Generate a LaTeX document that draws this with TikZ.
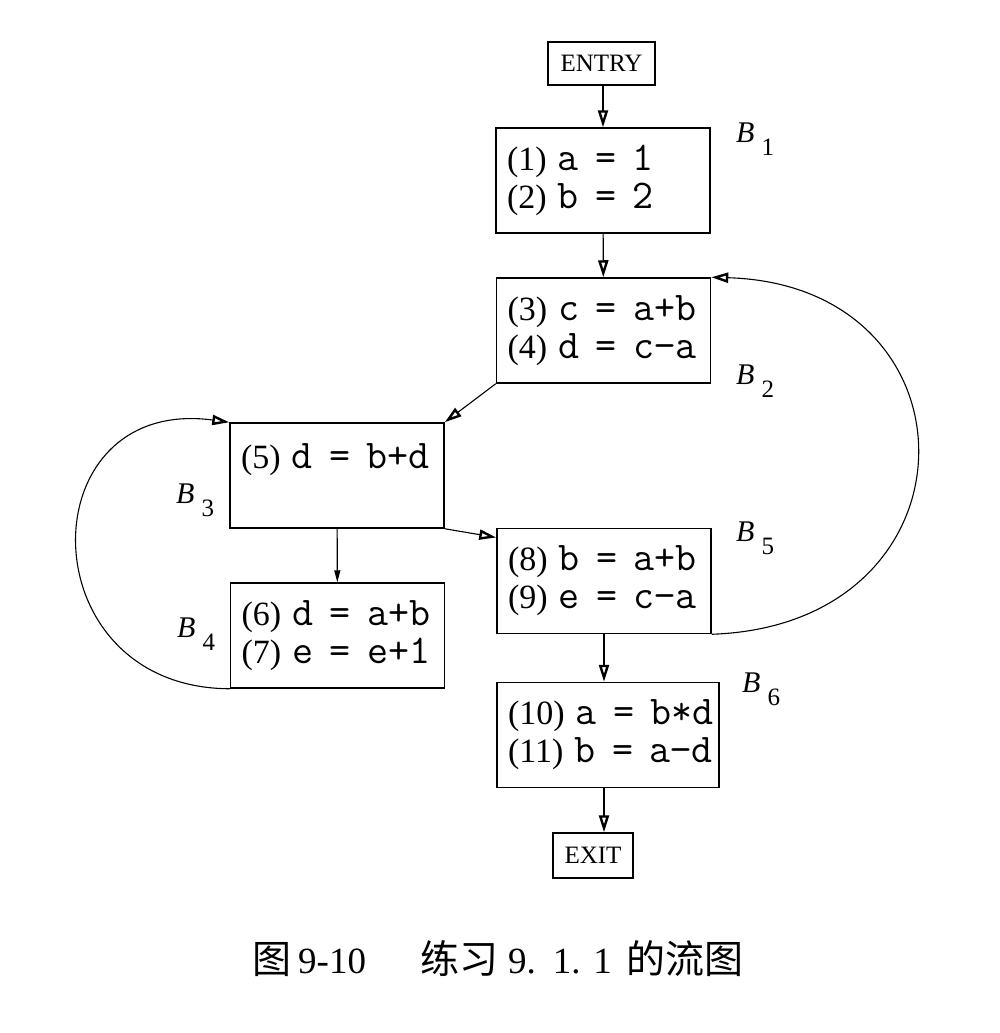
\documentclass[tikz,border=0pt]{standalone}
\usepackage{fontspec}
\setmainfont{Liberation Serif}
\setmonofont{Latin Modern Mono}[Scale=1.2]
\newfontfamily\cjk{Noto Sans CJK SC}
\usetikzlibrary{arrows.meta}

\tikzset{
  blk/.style={draw, line width=1.5pt, text width=192pt, inner xsep=11pt,
    minimum height=105pt, align=left, font=\fontsize{34}{38}\selectfont},
  term/.style={draw, line width=1.5pt, inner sep=0pt, font=\fontsize{25}{30}\selectfont},
  lab/.style={anchor=base west, inner sep=0pt, font=\fontsize{30}{34}\selectfont},
  arr/.style={line width=1.1pt, -{Triangle[open, length=17pt, width=10pt, line width=2.4pt]}},
  arrsm/.style={line width=1.1pt, -{Triangle[length=12pt, width=6pt]}}
}
\newcommand{\blab}[1]{\textit{B}\hspace{7pt}\raisebox{-13pt}{\fontsize{25}{30}\selectfont #1}}
\newcommand{\asig}[2]{\mbox{\texttt{#1\hspace{5pt} = \hspace{5pt}#2}}}

\begin{document}
\begin{tikzpicture}[x=1pt, y=-1pt]
        \useasboundingbox (0,0) rectangle (1000,1033);

        % Dibuja los bloques
        \node[term, minimum width=107pt, minimum height=43pt] (entry) at (601.5,63.5) {ENTRY};
        \node[blk] (b1) at (603,180.5) {(1) \asig{a}{1}\\(2) \asig{b}{2}};
        \node[blk] (b2) at (603.5,330.5) {(3) \asig{c}{a+b}\\(4) \asig{d}{c−a}};
        \node[blk] (b3) at (337,475.5) {(5) \asig{d}{b+d}\\\mbox{}};
        \node[blk] (b4) at (337.5,635.5) {(6) \asig{d}{a+b}\\(7) \asig{e}{e+1}};
        \node[blk] (b5) at (604,581) {(8) \asig{b}{a+b}\\(9) \asig{e}{c−a}};
        \node[blk, text width=200pt] (b6) at (608,735) {(10)~\asig{a}{b*d}\\(11)~\asig{b}{a−d}};
        \node[term, minimum width=80pt, minimum height=45pt] (exit) at (593,855.5) {EXIT};

        % Coloca las etiquetas de los bloques
        \node[lab] (l1) at (736,142) {\blab{1}};
        \node[lab] (l2) at (736,384) {\blab{2}};
        \node[lab] (l3) at (176,503) {\blab{3}};
        \node[lab] (l4) at (177,637) {\blab{4}};
        \node[lab] (l5) at (736,541) {\blab{5}};
        \node[lab] (l6) at (742,692) {\blab{6}};

        % Dibuja las flechas
        \draw[arr] (b1.north |- entry.south) -- (b1.north);
        \draw[arr] (b1) -- (b2);
        \draw[arr] (b2.south west) -- (b3.north east);
        \draw[arr] (b3.south east) -- (b5.158);
        \draw[arrsm] (b3) -- (b4);
        \draw[arr] (b5.south) -- (b5.south |- b6.north);
        \draw[arr] (b5.south |- b6.south) -- (b5.south |- exit.north);

        % Dibuja los lazos
        \draw[arr] (b4.south west) .. controls (27,688) and (27,395) .. (b3.north west);
        \draw[arr] (b5.south east) .. controls (985,625) and (985,285) .. (b2.north east);

        % Coloca el titulo
        \node[anchor=base west, inner sep=0pt, font=\fontsize{37}{44}\selectfont] (cap) at (252,973)
          {{\cjk\fontsize{39}{44}\selectfont 图}\hspace{7pt}9-10\hspace{54pt}{\cjk\fontsize{39}{44}\selectfont 练习}\hspace{10pt}9.\hspace{17pt}1.\hspace{13pt}1\hspace{14pt}{\cjk\fontsize{39}{44}\selectfont 的流图}};
    \end{tikzpicture}
\end{document}
